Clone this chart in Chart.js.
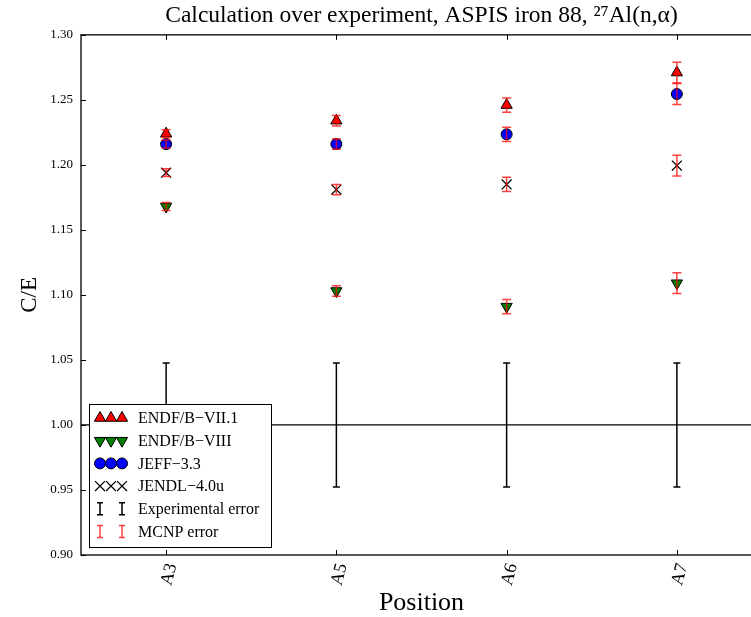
<!DOCTYPE html>
<html>
<head>
<meta charset="utf-8">
<script src="https://cdn.jsdelivr.net/npm/chart.js@4/dist/chart.umd.min.js"></script>
<style>
body { margin: 0; overflow: hidden; background: #fff; }
#wrap { width: 775px; height: 617px; }
</style>
</head>
<body>
<div id="wrap"><canvas id="my-chart" width="775" height="617"></canvas></div>
<script>
// positions along the ASPIS iron 88 block
const positions = ["A3", "A5", "A6", "A7"];

// C/E for each library
const endf71 = [1.224, 1.234, 1.246, 1.271];
const endf8 = [1.168, 1.103, 1.091, 1.109];
const jeff33 = [1.216, 1.216, 1.2235, 1.2545];
const jendl40u = [1.194, 1.181, 1.185, 1.1995];

// MCNP statistical error (absolute, on C/E) per position
const mcnpError = [0.003, 0.004, 0.0055, 0.008];

// experimental value and its error per position
const expValue = [1.0, 1.0, 1.0, 1.0];
const expError = [0.0477, 0.0477, 0.0477, 0.0477];

const yTicks = [0.90, 0.95, 1.00, 1.05, 1.10, 1.15, 1.20, 1.25, 1.30];
const referenceLine = 1.0;

const serif = "'Liberation Serif', 'DejaVu Serif', serif";
const mcnpColor = "rgba(255, 0, 0, 0.75)";

const librarySeries = [
    { label: "ENDF/B\u2212VII.1", data: endf71, style: "triangle", rotation: 0, color: "#ff0000", radius: 6.5 },
    { label: "ENDF/B\u2212VIII", data: endf8, style: "triangle", rotation: 180, color: "#008000", radius: 6.5 },
    { label: "JEFF\u22123.3", data: jeff33, style: "circle", rotation: 0, color: "#0000ff", radius: 5.5 },
    { label: "JENDL\u22124.0u", data: jendl40u, style: "crossRot", rotation: 0, color: "#000000", radius: 7 }
];

function drawErrorBar(ctx, x, yTop, yBottom, cap) {
    ctx.beginPath();
    ctx.moveTo(x, yTop);
    ctx.lineTo(x, yBottom);
    ctx.moveTo(x - cap, yTop);
    ctx.lineTo(x + cap, yTop);
    ctx.moveTo(x - cap, yBottom);
    ctx.lineTo(x + cap, yBottom);
    ctx.stroke();
}

const backgroundPlugin = {
    id: "expBars",
    beforeDatasetsDraw(chart) {
        let ctx = chart.ctx;
        let xs = chart.scales.x;
        let ys = chart.scales.y;
        let area = chart.chartArea;
        ctx.save();
        ctx.strokeStyle = "#000";
        ctx.lineWidth = 1.3;
        let yRef = ys.getPixelForValue(referenceLine);
        ctx.beginPath();
        ctx.moveTo(area.left, yRef);
        ctx.lineTo(area.right, yRef);
        ctx.stroke();
        ctx.lineWidth = 1.5;
        positions.forEach(function(p, i) {
            let x = xs.getPixelForValue(i);
            drawErrorBar(ctx, x, ys.getPixelForValue(expValue[i] + expError[i]),
                ys.getPixelForValue(expValue[i] - expError[i]), 3.5);
        });
        ctx.restore();
    },
    afterDatasetsDraw(chart) {
        let ctx = chart.ctx;
        let xs = chart.scales.x;
        let ys = chart.scales.y;
        ctx.save();
        ctx.strokeStyle = mcnpColor;
        ctx.lineWidth = 1.5;
        librarySeries.forEach(function(s) {
            s.data.forEach(function(v, i) {
                let x = xs.getPixelForValue(i);
                drawErrorBar(ctx, x, ys.getPixelForValue(v + mcnpError[i]),
                    ys.getPixelForValue(v - mcnpError[i]), 4.5);
            });
        });
        ctx.restore();
    }
};

const framePlugin = {
    id: "frame",
    afterDraw(chart) {
        let ctx = chart.ctx;
        let area = chart.chartArea;
        let xs = chart.scales.x;
        let ys = chart.scales.y;
        ctx.save();
        ctx.strokeStyle = "#000";
        ctx.lineWidth = 1.3;
        ctx.strokeRect(area.left, area.top, area.right - area.left, area.bottom - area.top);
        ctx.lineWidth = 1;
        ys.ticks.forEach(function(t) {
            let y = Math.round(ys.getPixelForValue(t.value)) + 0.5;
            ctx.beginPath();
            ctx.moveTo(area.left, y);
            ctx.lineTo(area.left + 5, y);
            ctx.moveTo(area.right, y);
            ctx.lineTo(area.right - 5, y);
            ctx.stroke();
        });
        positions.forEach(function(p, i) {
            let x = Math.round(xs.getPixelForValue(i)) + 0.5;
            ctx.beginPath();
            ctx.moveTo(x, area.bottom);
            ctx.lineTo(x, area.bottom - 5);
            ctx.moveTo(x, area.top);
            ctx.lineTo(x, area.top + 5);
            ctx.stroke();
        });

        // legend box, lower left inside the axes
        let boxLeft = area.left + 8;
        let boxWidth = 182;
        let boxHeight = 143;
        let boxTop = area.bottom - 8 - boxHeight;
        ctx.fillStyle = "#fff";
        ctx.fillRect(boxLeft, boxTop, boxWidth, boxHeight);
        ctx.strokeStyle = "#000";
        ctx.lineWidth = 1;
        ctx.strokeRect(boxLeft + 0.5, boxTop + 0.5, boxWidth, boxHeight);

        let rowGap = 22.7;
        let rowY = boxTop + 14;
        let markX = [boxLeft + 11, boxLeft + 22, boxLeft + 33];
        ctx.font = "16px " + serif;
        ctx.textBaseline = "middle";
        ctx.textAlign = "left";
        librarySeries.forEach(function(s, r) {
            let y = rowY + r * rowGap;
            ctx.fillStyle = s.color;
            ctx.strokeStyle = "#000";
            ctx.lineWidth = s.style === "crossRot" ? 1.3 : 1;
            markX.forEach(function(mx) {
                Chart.helpers.drawPoint(ctx, { pointStyle: s.style, radius: s.radius, rotation: s.rotation, borderWidth: 1 }, mx, y);
            });
            ctx.fillStyle = "#000";
            ctx.fillText(s.label, boxLeft + 49, y + 1);
        });
        let barRows = [
            { label: "Experimental error", color: "#000" },
            { label: "MCNP error", color: mcnpColor }
        ];
        barRows.forEach(function(b, k) {
            let y = rowY + (librarySeries.length + k) * rowGap;
            ctx.strokeStyle = b.color;
            ctx.lineWidth = 1.5;
            drawErrorBar(ctx, markX[0], y - 6, y + 6, 3);
            drawErrorBar(ctx, markX[2], y - 6, y + 6, 3);
            ctx.fillStyle = "#000";
            ctx.fillText(b.label, boxLeft + 49, y + 1);
        });
        ctx.restore();
    }
};

const ctx = document.getElementById("my-chart").getContext("2d");
const chart = new Chart(ctx, {
    type: "line",
    data: {
        labels: positions,
        datasets: librarySeries.map(function(s) {
            return {
                label: s.label,
                data: s.data,
                showLine: false,
                pointStyle: s.style,
                pointRotation: s.rotation,
                pointRadius: s.radius,
                pointHoverRadius: s.radius,
                pointBackgroundColor: s.color,
                pointBorderColor: "#000",
                pointBorderWidth: s.style === "crossRot" ? 1.3 : 1
            };
        })
    },
    options: {
        responsive: false,
        animation: false,
        events: [],
        layout: { padding: { left: 0, right: 13, top: 0, bottom: 0 } },
        plugins: {
            legend: { display: false },
            tooltip: { enabled: false },
            title: {
                display: true,
                fullSize: false,
                text: "Calculation over experiment, ASPIS iron 88, \u00b2\u2077Al(n,\u03b1)",
                color: "#000",
                font: { family: serif, size: 23.5, weight: "normal", lineHeight: 1.1 },
                padding: { top: 3, bottom: 6 }
            }
        },
        scales: {
            x: {
                type: "category",
                offset: true,
                grid: { display: false, drawTicks: false },
                border: { display: false },
                ticks: {
                    color: "#000",
                    autoSkip: false,
                    minRotation: 75,
                    maxRotation: 75,
                    padding: 6,
                    labelOffset: 6,
                    font: { family: serif, size: 18 }
                },
                title: {
                    display: true,
                    text: "Position",
                    color: "#000",
                    font: { family: serif, size: 26, lineHeight: 1.05 },
                    padding: { top: 0, bottom: 0 }
                },
                afterFit: function(scale) { scale.height = 62; }
            },
            y: {
                min: 0.9,
                max: 1.3,
                grid: { display: false, drawTicks: false },
                border: { display: false },
                afterBuildTicks: function(scale) {
                    scale.ticks = yTicks.map(function(v) { return { value: v }; });
                },
                ticks: {
                    color: "#000",
                    padding: 8,
                    font: { family: serif, size: 13 },
                    callback: function(value) { return Number(value).toFixed(2); }
                },
                title: {
                    display: true,
                    text: "C/E",
                    color: "#000",
                    font: { family: serif, size: 23 },
                    padding: { top: 16, bottom: 0 }
                },
                afterFit: function(scale) { scale.width = 81; }
            }
        }
    },
    plugins: [backgroundPlugin, framePlugin]
});
</script>
</body>
</html>
